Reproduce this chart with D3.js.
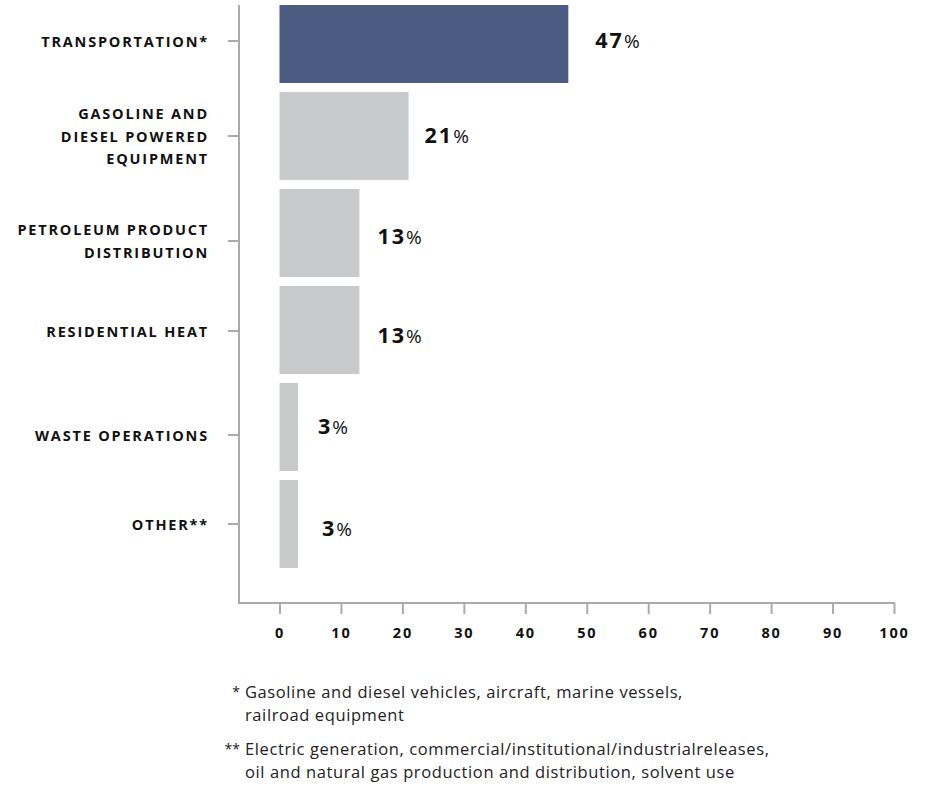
<!DOCTYPE html>
<html>
<head>
<meta charset="utf-8">
<script src="https://cdn.jsdelivr.net/npm/d3@7"></script>
<style>
  html, body { margin: 0; padding: 0; background: #fff; }
  svg { display: block; }
</style>
</head>
<body>
<svg id="chart" width="930" height="786"></svg>
<script>
// Emission sources (percent share)
const categories = [
  ["TRANSPORTATION*"],
  ["GASOLINE AND", "DIESEL POWERED", "EQUIPMENT"],
  ["PETROLEUM PRODUCT", "DISTRIBUTION"],
  ["RESIDENTIAL HEAT"],
  ["WASTE OPERATIONS"],
  ["OTHER**"]
];
const values = [47, 21, 13, 13, 3, 3];
const highlighted = [true, false, false, false, false, false];
const xTicks = [0, 10, 20, 30, 40, 50, 60, 70, 80, 90, 100];
const footnotes = [
  { mark: "*", lines: ["Gasoline and diesel vehicles, aircraft, marine vessels,", "railroad equipment"] },
  { mark: "**", lines: ["Electric generation, commercial/institutional/industrialreleases,", "oil and natural gas production and distribution, solvent use"] }
];

// hand-tuned label placement (pixels)
const catNudge = [2, 0, 8, 1, 8, 0];
const valNudgeX = [27, 16, 18, 18, 20, 24];
const valNudgeY = [1, -1, 3, 5, -1, 4];

const svg = d3.select("#chart");
const axisColor = "#a9aaad";
const labelFont = "'Open Sans', 'DejaVu Sans', sans-serif";

const keys = categories.map((c, i) => i);
const x = d3.scaleLinear().domain([0, 100]).range([279.5, 894]);
const y = d3.scaleBand().domain(keys).range([-9.5, 572.5])
  .paddingInner(9 / 97).paddingOuter(4.5 / 97);
const yc = i => y(i) + y.bandwidth() / 2;

// plot area is cropped at the top
svg.append("defs").append("clipPath").attr("id", "plotClip")
  .append("rect").attr("x", 0).attr("y", 5).attr("width", 930).attr("height", 781);

const g = svg.append("g").attr("clip-path", "url(#plotClip)");

// bars
g.selectAll("rect.bar").data(values).join("rect")
  .attr("class", "bar")
  .attr("x", x(0))
  .attr("y", (d, i) => y(i))
  .attr("width", d => x(d) - x(0))
  .attr("height", y.bandwidth())
  .attr("fill", (d, i) => highlighted[i] ? "#4b5a80" : "#c8c9cb");

// value labels
const vl = g.selectAll("text.val").data(values).join("text")
  .attr("class", "val")
  .attr("x", (d, i) => x(d) + valNudgeX[i])
  .attr("y", (d, i) => yc(i) + valNudgeY[i] + 7.5)
  .attr("font-family", labelFont)
  .attr("fill", "#111");
vl.append("tspan").attr("font-weight", 700).attr("font-size", 21.5)
  .attr("letter-spacing", 2).text(d => d);
vl.append("tspan").attr("font-weight", 400).attr("font-size", 19).text("%");

// y axis
const yAxis = d3.axisLeft(y).tickSize(11).tickFormat("");
const yg = g.append("g").attr("transform", "translate(239,0)").call(yAxis);
yg.select(".domain").remove();
yg.selectAll(".tick").attr("transform", d => `translate(0,${yc(d) + catNudge[d]})`);
yg.append("line").attr("x1", 0).attr("x2", 0).attr("y1", 0).attr("y2", 604)
  .attr("stroke", axisColor).attr("stroke-width", 2);
yg.selectAll(".tick line").attr("stroke", axisColor).attr("stroke-width", 2);

// category labels
const cl = g.selectAll("text.cat").data(categories).join("text")
  .attr("class", "cat")
  .attr("text-anchor", "end")
  .attr("font-family", labelFont)
  .attr("font-weight", 700)
  .attr("font-size", 14.5)
  .attr("letter-spacing", 1.8)
  .attr("fill", "#111");
cl.each(function(lines, i) {
  const cy = yc(i) + catNudge[i];
  const lh = 22.5;
  const top = cy - (lines.length - 1) * lh / 2;
  d3.select(this).selectAll("tspan").data(lines).join("tspan")
    .attr("x", 209)
    .attr("y", (d, j) => top + j * lh + 5.5)
    .text(d => d);
});

// x axis
const xAxis = d3.axisBottom(x).tickValues(xTicks).tickSize(11).tickPadding(14);
const xg = svg.append("g").attr("transform", "translate(0,603)").call(xAxis);
xg.select(".domain").remove();
xg.append("line").attr("x1", 238).attr("x2", x(100) + 1).attr("y1", 0).attr("y2", 0)
  .attr("stroke", axisColor).attr("stroke-width", 2);
xg.selectAll(".tick line").attr("stroke", axisColor).attr("stroke-width", 2);
xg.selectAll(".tick text")
  .attr("font-family", labelFont)
  .attr("font-weight", 700)
  .attr("font-size", 14.5)
  .attr("letter-spacing", 1.8)
  .attr("fill", "#111");

// footnotes
const fnFont = "'Open Sans', 'Lato', sans-serif";
const fnY = [692, 749];
footnotes.forEach((fn, k) => {
  const fg = svg.append("g");
  fg.append("text")
    .attr("x", 240).attr("y", fnY[k] + 5)
    .attr("text-anchor", "end")
    .attr("font-family", fnFont).attr("font-size", 14).attr("fill", "#222")
    .text(fn.mark);
  fn.lines.forEach((line, j) => {
    fg.append("text")
      .attr("x", 245).attr("y", fnY[k] + 6 + j * 23)
      .attr("font-family", fnFont).attr("font-size", 16.5)
      .attr("letter-spacing", 0.6)
      .attr("fill", "#222")
      .text(line);
  });
});
</script>
</body>
</html>
